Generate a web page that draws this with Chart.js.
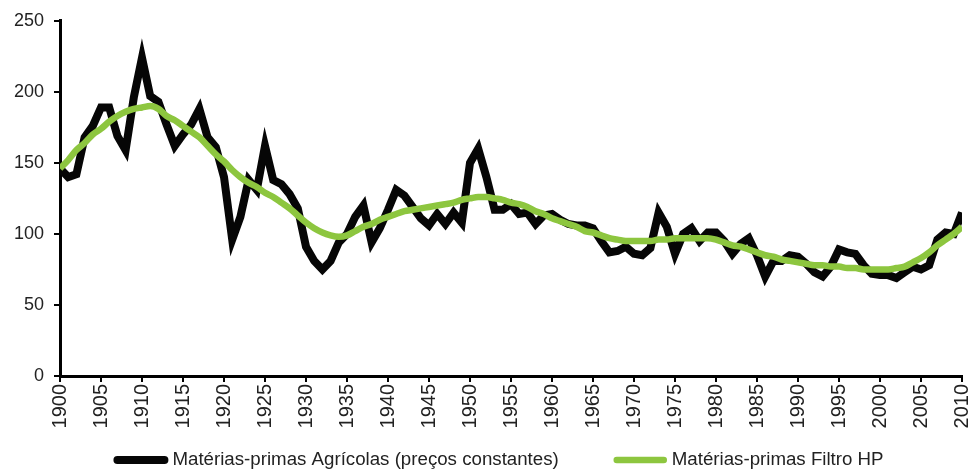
<!DOCTYPE html>
<html><head><meta charset="utf-8">
<script src="https://cdn.jsdelivr.net/npm/chart.js@4/dist/chart.umd.min.js"></script>
<style>html,body{margin:0;padding:0;background:#fff}#wrap{width:974px;height:471px}</style>
</head><body><div id="wrap"><canvas id="c" width="974" height="471"></canvas></div>
<script>
const years = [
 1900,1901,1902,1903,1904,1905,1906,1907,1908,1909,
 1910,1911,1912,1913,1914,1915,1916,1917,1918,1919,
 1920,1921,1922,1923,1924,1925,1926,1927,1928,1929,
 1930,1931,1932,1933,1934,1935,1936,1937,1938,1939,
 1940,1941,1942,1943,1944,1945,1946,1947,1948,1949,
 1950,1951,1952,1953,1954,1955,1956,1957,1958,1959,
 1960,1961,1962,1963,1964,1965,1966,1967,1968,1969,
 1970,1971,1972,1973,1974,1975,1976,1977,1978,1979,
 1980,1981,1982,1983,1984,1985,1986,1987,1988,1989,
 1990,1991,1992,1993,1994,1995,1996,1997,1998,1999,
 2000,2001,2002,2003,2004,2005,2006,2007,2008,2009,
 2010];
const agricolas = [
 146,140,142,168,176,189,189,169,159,196,
 224,197,193,177,162,170,177,188,168,161,
 140, 96,112,138,131,162,138,135,128,118,
  91, 81, 75, 81, 94,100,112,120, 94,104,
 117,131,127,119,111,106,114,107,115,108,
 150,160,140,117,117,121,114,115,107,113,
 114,110,107,106,106,104, 95, 87, 88, 91,
  86, 85, 90,115,105, 86,100,104, 95,101,
 101, 95, 86, 93, 97, 85, 70, 81, 81, 85,
  84, 79, 73, 70, 77, 89, 87, 86, 78, 72,
  71, 71, 69, 73, 77, 75, 78, 96,101,100,
 115];
const filtroHP = [
 146,152,159,164,170,174,179,183,186,188,
 189,190,188,183,180,176,172,168,162,156,
 151,145,140,136,133,129,126,122,118,113,
 108,104,101, 99, 98, 99,102,105,107,110,
 112,114,116,117,118,119,120,121,122,124,
 125,126,126,125,124,122,121,119,116,114,
 111,109,107,105,102,101, 99, 97, 96, 95,
  95, 95, 95, 96, 96, 97, 97, 97, 97, 97,
  96, 94, 92, 91, 89, 87, 85, 84, 82, 81,
  80, 79, 78, 78, 77, 77, 76, 76, 75, 75,
  75, 75, 76, 77, 80, 83, 87, 92, 96,100,
 105];
const seriesNames = ['Matérias-primas Agrícolas (preços constantes)', 'Matérias-primas Filtro HP'];
const seriesColors = ['#060606', '#8DC63F'];
const yTicks = [0, 50, 100, 150, 200, 250];
const xTickStep = 5;

const toPts = (vals) => vals.map((v, i) => ({x: years[i], y: v}));
const FONT = "'Liberation Sans', Arial, sans-serif";

Chart.defaults.font.family = FONT;
Chart.defaults.font.size = 18;
Chart.defaults.color = '#222';

const bottomLegend = {
  id: 'bottomLegend',
  afterDraw(chart) {
    const ctx = chart.ctx;
    const sample = 53, gapText = 5, gapItem = 55, y = 460, center = 499;
    ctx.save();
    ctx.font = '18.7px ' + FONT;
    ctx.textBaseline = 'middle';
    const items = chart.data.datasets.map((ds) => ({ds, w: ctx.measureText(ds.label).width}));
    let total = 0;
    items.forEach((it, i) => { total += sample + gapText + it.w + (i < items.length - 1 ? gapItem : 0); });
    let x = center - total / 2;
    items.forEach((it) => {
      ctx.strokeStyle = it.ds.borderColor;
      ctx.lineWidth = it.ds.borderWidth;
      ctx.lineCap = 'round';
      ctx.beginPath(); ctx.moveTo(x + 3, y); ctx.lineTo(x + sample - 3, y); ctx.stroke();
      ctx.fillStyle = '#222';
      ctx.fillText(it.ds.label, x + sample + gapText, y);
      x += sample + gapText + it.w + gapItem;
    });
    ctx.restore();
  }
};

new Chart(document.getElementById('c'), {
  type: 'line',
  data: {
    datasets: [
      { label: seriesNames[0], data: toPts(agricolas), borderColor: seriesColors[0], backgroundColor: seriesColors[0],
        borderWidth: 8, pointRadius: 0, tension: 0, order: 1, borderJoinStyle: 'miter' },
      { label: seriesNames[1], data: toPts(filtroHP), borderColor: seriesColors[1], backgroundColor: seriesColors[1],
        borderWidth: 6.5, pointRadius: 0, cubicInterpolationMode: 'monotone', order: 0 }
    ]
  },
  plugins: [bottomLegend],
  options: {
    responsive: false, animation: false, devicePixelRatio: 1,
    layout: { padding: { left: 0, right: 0, top: 20, bottom: 35 } },
    plugins: { tooltip: { enabled: false }, legend: { display: false } },
    scales: {
      x: {
        type: 'linear', min: years[0], max: years[years.length - 1],
        afterFit: (s) => { s.height = 60; s.paddingRight = 12; s.paddingLeft = 0; },
        afterBuildTicks: (s) => { s.ticks = years.filter(y => (y - years[0]) % xTickStep === 0).map(v => ({value: v})); },
        ticks: { autoSkip: false, minRotation: 90, maxRotation: 90, padding: 2, font: { size: 20 }, callback: (v) => String(v) },
        grid: { drawOnChartArea: false, drawTicks: true, tickLength: 6, color: '#000', lineWidth: 2 },
        border: { color: '#000', width: 3 }
      },
      y: {
        min: 0, max: 250,
        afterFit: (s) => { s.width = 60; },
        afterBuildTicks: (s) => { s.ticks = yTicks.map(v => ({value: v})); },
        ticks: { padding: 10 },
        grid: { drawOnChartArea: false, drawTicks: true, tickLength: 6, color: '#000', lineWidth: 2 },
        border: { color: '#000', width: 3 }
      }
    }
  }
});
</script></body></html>
